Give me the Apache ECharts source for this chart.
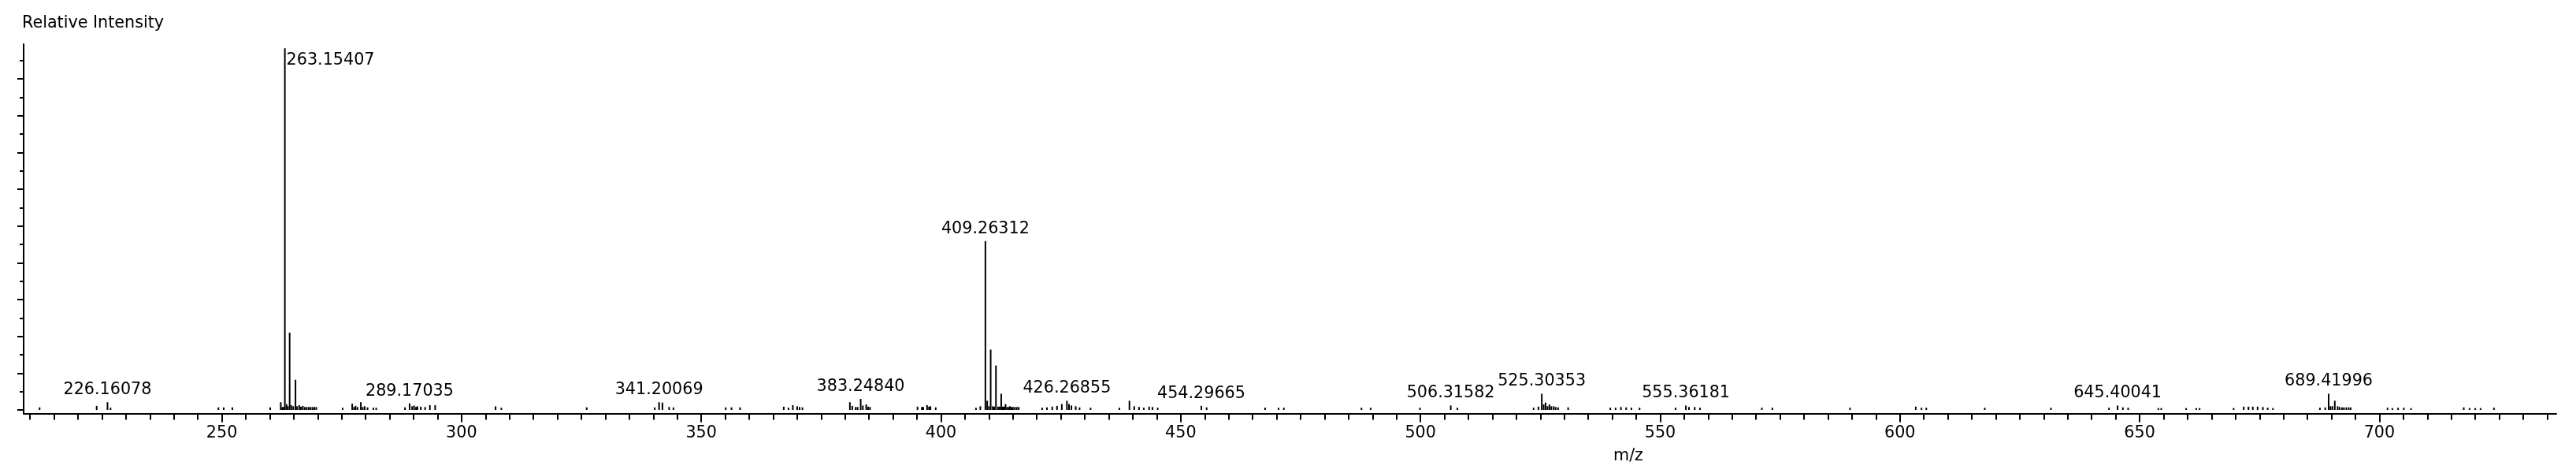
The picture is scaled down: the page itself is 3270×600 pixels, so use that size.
<!DOCTYPE html>
<html><head><meta charset="utf-8">
<script src="https://cdn.jsdelivr.net/npm/echarts@6/dist/echarts.min.js"></script>
<style>html,body{margin:0;padding:0;background:#fff}#c{width:3270px;height:600px}</style>
</head><body><div id="c"></div>
<script>
// ---- data (m/z, relative intensity %) ----
const mz = [
212.0,223.9,226.16078,226.8,249.3,250.4,252.2,260.1,262.3,262.6,262.9,
263.15407,263.5,263.8,264.15,264.5,264.9,265.37,265.7,266.15,266.5,266.9,267.3,267.7,268.1,268.5,268.9,269.3,269.7,
275.2,277.2,277.6,277.9,278.3,279.0,279.4,279.8,280.4,281.6,282.2,
288.2,289.17035,289.7,290.1,290.5,290.8,291.5,292.4,293.4,294.5,307.1,308.3,
326.1,340.3,341.20069,341.9,343.3,344.2,355.1,356.3,358.1,
367.2,368.2,369.1,370.0,370.5,371.1,
381.0,381.5,382.2,382.6,383.24840,383.7,384.4,384.8,385.2,
395.1,396.0,396.3,397.1,397.5,397.8,398.9,
407.3,408.2,409.26312,409.64,410.0,410.36,410.8,411.1,411.46,411.9,412.2,412.56,412.9,413.2,413.46,413.8,414.1,414.36,414.7,415.0,415.4,415.8,416.2,
421.1,422.1,423.2,424.2,425.2,426.26855,426.7,427.2,428.1,428.9,431.2,
437.2,439.3,440.3,441.3,442.3,443.4,444.1,445.2,
454.29665,455.4,467.6,470.4,471.5,487.7,489.6,499.9,506.31582,507.7,
523.6,524.6,525.30353,525.7,526.1,526.5,526.9,527.3,527.8,528.2,528.7,530.8,
539.6,540.7,541.8,542.9,544.0,545.7,
553.2,555.36181,556.0,557.2,558.3,571.2,573.4,589.6,603.3,604.5,605.5,617.7,631.5,
643.6,645.40041,646.5,647.6,653.9,654.5,659.7,661.8,662.5,
669.6,671.7,672.7,673.6,674.6,675.7,676.7,677.8,
687.6,688.7,689.41996,689.8,690.2,690.7,691.3,691.7,692.2,692.6,693.1,693.6,694.0,
701.7,702.7,703.9,705.1,706.6,717.6,718.8,720.0,721.1,723.9
];
const intensity = [
0.7,1.1,2.1,0.6,0.7,0.7,0.7,0.7,2.1,0.8,0.8,
98.3,1.6,1.0,21.0,1.3,1.0,8.2,1.0,1.3,0.9,1.1,0.8,0.8,0.8,0.8,0.8,0.8,0.8,
0.6,1.7,0.8,1.1,0.8,2.1,0.8,1.0,0.7,0.6,0.6,
0.7,1.8,1.0,1.2,0.8,1.0,0.9,0.8,1.3,1.3,1.0,0.6,
0.7,0.7,2.1,2.0,0.8,0.7,0.7,0.7,0.7,
0.9,0.6,1.3,1.0,0.8,0.7,
2.1,1.1,0.8,0.8,3.0,1.2,1.5,0.9,0.8,
0.9,0.8,0.8,1.3,0.9,1.0,0.7,
0.6,1.0,45.9,2.5,1.0,16.4,1.0,0.9,12.1,0.9,0.9,4.4,0.9,0.9,1.6,0.8,0.8,1.0,0.8,0.8,0.8,0.8,0.8,
0.6,0.7,0.9,1.1,1.6,2.5,1.6,1.2,1.0,0.7,0.6,
0.6,2.5,1.0,0.8,0.6,0.9,0.8,0.6,
1.1,0.7,0.6,0.6,0.6,0.6,0.6,0.6,1.2,0.6,
0.6,0.9,4.4,1.5,2.0,1.0,1.5,1.0,1.0,0.8,0.7,0.7,
0.6,0.6,0.8,0.7,0.6,0.6,
0.6,1.2,0.8,0.8,0.6,0.6,0.6,0.6,0.9,0.6,0.6,0.6,0.6,
0.6,1.2,0.7,0.6,0.5,0.5,0.5,0.5,0.5,
0.5,0.9,0.9,0.9,0.9,0.8,0.6,0.5,
0.6,0.7,4.4,1.0,1.0,2.5,1.0,0.8,0.7,0.7,0.7,0.7,0.7,
0.6,0.5,0.6,0.6,0.5,0.7,0.5,0.5,0.5,0.6
];
const labeledMz = [226.16078,263.15407,289.17035,341.20069,383.24840,409.26312,426.26855,454.29665,506.31582,525.30353,555.36181,645.40041,689.41996];
const labelBesideMz = [263.15407];
const xMajorTicks = [250,300,350,400,450,500,550,600,650,700];
const xMinorTickFirst = 210, xMinorTickLast = 735, xMinorTickStep = 5;
const yMajorTicks = [0,10,20,30,40,50,60,70,80,90];
const yMinorTicks = [5,15,25,35,45,55,65,75,85,95];
const yTitle = 'Relative Intensity';
const xTitle = 'm/z';

const xMinorTicks = [];
for (let v = xMinorTickFirst; v <= xMinorTickLast; v += xMinorTickStep) xMinorTicks.push(v);

const FONT = 'DejaVu Sans';
const FS = 20.7;

const barData = mz.map((m, i) => {
  const item = { value: [m, intensity[i]] };
  if (labelBesideMz.indexOf(m) >= 0) {
    item.label = { show: true, position: [3, 5], formatter: m.toFixed(5) };
  } else if (labeledMz.indexOf(m) >= 0) {
    item.label = { show: true, position: 'top', distance: 5, formatter: m.toFixed(5) };
  }
  return item;
});

const chart = echarts.init(document.getElementById('c'), null, { renderer: 'canvas' });
const X_MIN = 208.67, X_MAX = 736.9, Y_MIN = -0.96, Y_MAX = 99.42;
chart.setOption({
  animation: false,
  backgroundColor: '#fff',
  title: [
    { text: yTitle, left: 28, top: 19, padding: 0,
      textStyle: { fontFamily: FONT, fontSize: FS, fontWeight: 'normal', color: '#000' } },
    { text: xTitle, left: 2048, top: 568, padding: 0,
      textStyle: { fontFamily: FONT, fontSize: FS, fontWeight: 'normal', color: '#000' } }
  ],
  grid: { left: 30, right: 25, top: 56, bottom: 75.5, containLabel: false },
  xAxis: [
    { type: 'value', min: X_MIN, max: X_MAX, position: 'bottom',
      axisLine: { show: true, onZero: false, lineStyle: { color: '#000', width: 2 } },
      axisTick: { show: true, customValues: xMinorTicks, length: 8, lineStyle: { color: '#000', width: 2 } },
      axisLabel: { show: true, customValues: xMajorTicks, margin: 15, color: '#000', fontFamily: FONT, fontSize: FS },
      splitLine: { show: false } },
    { type: 'value', min: X_MIN, max: X_MAX, position: 'bottom',
      axisLine: { show: false, onZero: false },
      axisTick: { show: true, customValues: xMajorTicks, length: 11, lineStyle: { color: '#000', width: 2 } },
      axisLabel: { show: false },
      splitLine: { show: false } }
  ],
  yAxis: [
    { type: 'value', min: Y_MIN, max: Y_MAX, position: 'left',
      axisLine: { show: true, onZero: false, lineStyle: { color: '#000', width: 2 } },
      axisTick: { show: true, customValues: yMinorTicks, length: 5, lineStyle: { color: '#000', width: 2 } },
      axisLabel: { show: false },
      splitLine: { show: false } },
    { type: 'value', min: Y_MIN, max: Y_MAX, position: 'left',
      axisLine: { show: false, onZero: false },
      axisTick: { show: true, customValues: yMajorTicks, length: 8, lineStyle: { color: '#000', width: 2 } },
      axisLabel: { show: false },
      splitLine: { show: false } }
  ],
  series: [{
    type: 'bar', xAxisIndex: 0, yAxisIndex: 0, barWidth: 2,
    itemStyle: { color: '#000' },
    label: { show: false, color: '#000', fontFamily: FONT, fontSize: FS },
    emphasis: { disabled: true },
    data: barData
  }]
});
</script></body></html>
